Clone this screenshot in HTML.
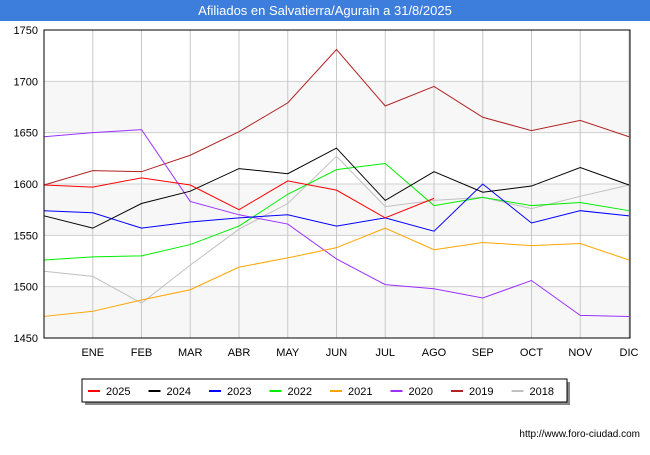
<!DOCTYPE html>
<html><head><meta charset="utf-8"><style>
body{margin:0;width:650px;height:450px;background:#fff;font-family:"Liberation Sans","DejaVu Sans",sans-serif;overflow:hidden}
</style></head><body>
<svg id="c" width="650" height="450" xmlns="http://www.w3.org/2000/svg">
<rect x="0" y="0" width="650" height="21" fill="#3d7ddb"/>
<text x="325" y="15" text-anchor="middle" fill="#fff" font-size="13">Afiliados en Salvatierra/Agurain a 31/8/2025</text>
<g id="grid"></g><g id="series"></g>
<rect x="44" y="30" width="586" height="308" fill="none" stroke="#000" stroke-width="1"/>
<g id="axes"></g>
<rect x="85" y="382" width="485" height="23" fill="#888"/>
<rect x="82" y="379" width="485" height="23" fill="#fff" stroke="#000" stroke-width="1"/>
<g id="legend"></g>
<text x="640" y="437" text-anchor="end" font-size="10" fill="#000">http://www.foro-ciudad.com</text>
</svg>
<script>
const months=["","ENE","FEB","MAR","ABR","MAY","JUN","JUL","AGO","SEP","OCT","NOV","DIC"];
const yTicks=[1450,1500,1550,1600,1650,1700,1750];
const years=["2025","2024","2023","2022","2021","2020","2019","2018"];
const colors=["#ff0000","#000000","#0000ff","#00ee00","#ffa500","#9b30ff","#b22222","#c0c0c0"];
const s2025=[1599,1597,1606,1599,1575,1603,1594,1567,1586];
const s2024=[1569,1557,1581,1593,1615,1610,1635,1584,1612,1592,1598,1616,1599];
const s2023=[1574,1572,1557,1563,1567,1570,1559,1567,1554,1600,1562,1574,1569];
const s2022=[1526,1529,1530,1541,1559,1590,1614,1620,1579,1587,1579,1582,1574];
const s2021=[1471,1476,1487,1497,1519,1528,1538,1557,1536,1543,1540,1542,1526];
const s2020=[1646,1650,1653,1583,1570,1561,1527,1502,1498,1489,1506,1472,1471];
const s2019=[1599,1613,1612,1628,1651,1679,1731,1676,1695,1665,1652,1662,1646];
const s2018=[1515,1510,1484,1521,1556,1581,1627,1578,1584,1587,1576,1588,1599];
const series=[s2025,s2024,s2023,s2022,s2021,s2020,s2019,s2018];
const NS="http://www.w3.org/2000/svg";
const X0=44,X1=629,Y0=338,Y1=30,YMIN=1450,YMAX=1750;
const xs=i=>X0+i*(X1-X0)/12;
const ys=v=>Y0-(v-YMIN)*(Y0-Y1)/(YMAX-YMIN);
function mk(tag,attrs,parent){const e=document.createElementNS(NS,tag);for(const k in attrs)e.setAttribute(k,attrs[k]);parent.appendChild(e);return e;}
const grid=document.getElementById('grid'),axes=document.getElementById('axes'),ser=document.getElementById('series'),leg=document.getElementById('legend');
for(let i=0;i<yTicks.length-1;i++){if(i%2===0){const r=mk('rect',{x:X0,y:ys(yTicks[i+1]),width:X1-X0+1,height:ys(yTicks[i])-ys(yTicks[i+1]),fill:'#f7f7f7'},grid);

}}
yTicks.forEach(v=>{const l=mk('line',{x1:X0,x2:X1+1,y1:ys(v),y2:ys(v),stroke:'#d0d0d0'},grid);


const t=mk('text',{x:38,y:ys(v)+4,'text-anchor':'end','font-size':'11'},axes);t.textContent=v;

});
months.forEach((m,i)=>{if(i>0){const l=mk('line',{x1:xs(i),x2:xs(i),y1:Y1,y2:Y0,stroke:'#c8c8c8'},grid);

}
const t=mk('text',{x:xs(i),y:356,'text-anchor':'middle','font-size':'11'},axes);t.textContent=m;

});
for(let k=series.length-1;k>=0;k--){const p=mk('polyline',{points:series[k].map((v,i)=>xs(i)+','+ys(v)).join(' '),fill:'none',stroke:colors[k],'stroke-width':1},ser);

}
years.forEach((y,k)=>{const x=88+k*60.5;const l=mk('line',{x1:x,x2:x+12,y1:391,y2:391,stroke:colors[k],'stroke-width':2},leg);


const t=mk('text',{x:x+18,y:395,'font-size':'11'},leg);t.textContent=y;

});
</script>
</body></html>
